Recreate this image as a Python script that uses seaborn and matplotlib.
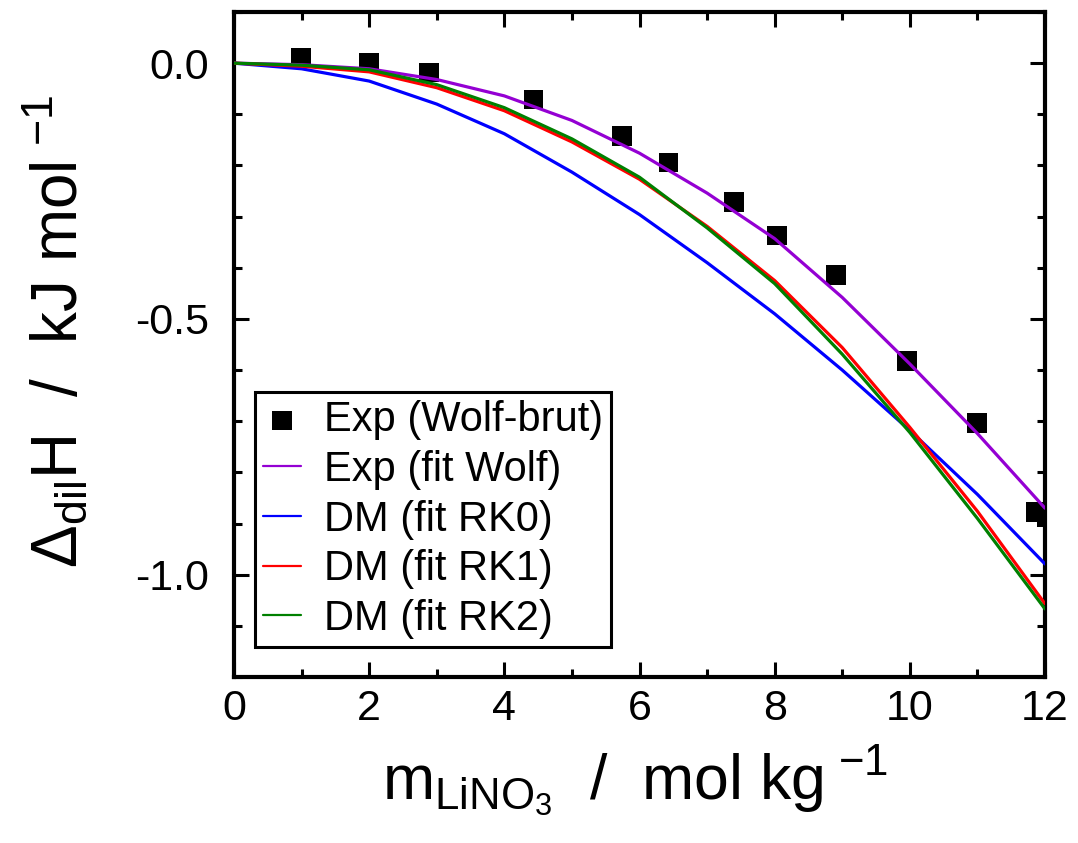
import numpy as np
import pandas as pd
import matplotlib
matplotlib.use("Agg")
import matplotlib.pyplot as plt
import seaborn as sns
from matplotlib.ticker import MultipleLocator, FormatStrFormatter

# ---- data ----
exp_x = [0.99, 2.0, 2.89, 4.43, 5.74, 6.43, 7.40, 8.03, 8.91, 9.96, 10.99, 11.87, 12.03]
exp_y = [0.011, 0.001, -0.018, -0.071, -0.143, -0.194, -0.271, -0.337, -0.414, -0.582, -0.704, -0.878, -0.888]

curve_x = [0, 1, 2, 3, 4, 5, 6, 7, 8, 9, 10, 11, 12]
wolf_fit = [0.0, -0.003, -0.011, -0.032, -0.064, -0.112, -0.176, -0.254, -0.343, -0.458, -0.588, -0.724, -0.870]
rk0 = [0.0, -0.011, -0.035, -0.080, -0.138, -0.213, -0.296, -0.390, -0.490, -0.600, -0.718, -0.843, -0.979]
rk1 = [0.0, -0.006, -0.017, -0.048, -0.093, -0.154, -0.227, -0.319, -0.425, -0.556, -0.712, -0.876, -1.057]
rk2 = [0.0, -0.004, -0.013, -0.042, -0.087, -0.148, -0.223, -0.322, -0.431, -0.569, -0.722, -0.890, -1.067]

labels = ["Exp (Wolf-brut)", "Exp (fit Wolf)", "DM (fit RK0)", "DM (fit RK1)", "DM (fit RK2)"]
colors = ["black", "#9400d3", "#0000ff", "#ff0000", "#008000"]
x_ticks = [0, 2, 4, 6, 8, 10, 12]
y_ticks = [0.0, -0.5, -1.0]

sns.set_theme(style="ticks")
plt.rcParams["font.family"] = ["Liberation Sans", "DejaVu Sans"]
plt.rcParams["mathtext.fontset"] = "custom"
plt.rcParams["mathtext.rm"] = "Liberation Sans"
plt.rcParams["mathtext.it"] = "Liberation Sans:italic"
plt.rcParams["axes.unicode_minus"] = False
for k in ["text.color", "axes.labelcolor", "xtick.color", "ytick.color", "axes.edgecolor"]:
    plt.rcParams[k] = "black"

fig = plt.figure(figsize=(10.78, 8.43), dpi=100)
ax = fig.add_axes([234/1078, 1 - 677/843, (1045-234)/1078, (677-12)/843])

df_exp = pd.DataFrame({"x": exp_x, "y": exp_y})
sns.scatterplot(data=df_exp, x="x", y="y", marker="s", s=200, color="black",
                edgecolor="none", ax=ax, label=labels[0], zorder=2)

for ys, lab, col in zip([wolf_fit, rk0, rk1, rk2], labels[1:], colors[1:]):
    d = pd.DataFrame({"x": curve_x, "y": ys})
    sns.lineplot(data=d, x="x", y="y", color=col, lw=2.3, ax=ax, label=lab,
                 sort=False, estimator=None, zorder=3)

ax.set_xlim(0, 12)
ax.set_ylim(-1.2, 0.1)
ax.set_xticks(x_ticks)
ax.set_yticks(y_ticks)
ax.xaxis.set_minor_locator(MultipleLocator(1))
ax.yaxis.set_minor_locator(MultipleLocator(0.1))
ax.yaxis.set_major_formatter(FormatStrFormatter("%.1f"))
ax.tick_params(which="both", direction="in", top=True, right=True, width=2.2,
               labelsize=31, colors="black")
ax.tick_params(which="major", length=11)
ax.tick_params(axis="y", which="major", pad=18)
ax.tick_params(axis="x", which="major", pad=9)
ax.tick_params(which="minor", length=6)
for sp in ax.spines.values():
    sp.set_linewidth(3)
    sp.set_color("black")
    sp.set_visible(True)

ax.set_xlabel(r"m$_{\mathrm{LiNO_3}}$  /  mol kg$^{\ \mathrm{-1}}$", fontsize=45)
ax.set_ylabel(r"$\Delta_{\mathrm{dil}}$H  /  kJ mol$^{\ \mathrm{-1}}$", fontsize=46)
ax.xaxis.set_label_coords(0.495, -0.1)
ax.yaxis.set_label_coords(-0.178, 0.52)

leg = ax.legend(loc="lower left", bbox_to_anchor=(0.026, 0.045), borderaxespad=0,
                fontsize=30, frameon=True, fancybox=False, edgecolor="black",
                handlelength=0.9, handletextpad=0.55, labelspacing=0.23,
                borderpad=0.2, markerscale=1.0)
leg.get_frame().set_linewidth(2.2)
leg.get_frame().set_alpha(1)
for ln in leg.get_lines():
    ln.set_linewidth(1.6)

fig.savefig("out.png", dpi=100)
